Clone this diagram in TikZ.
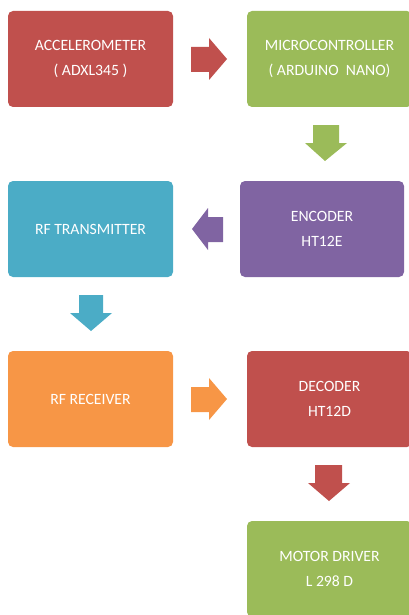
\documentclass[tikz,border=0pt]{standalone}
\usepackage{fontspec}
\setmainfont{Carlito}
\definecolor{cred}{HTML}{C0504D}
\definecolor{cgreen}{HTML}{9BBB59}
\definecolor{cblue}{HTML}{4BACC6}
\definecolor{cpurple}{HTML}{8064A2}
\definecolor{corange}{HTML}{F79646}
\tikzset{
  blockbox/.style={rectangle, rounded corners=5pt, inner sep=0pt, outer sep=0pt,
    minimum width=165pt, minimum height=96pt, text=white, align=center,
    font=\fontsize{15.7}{25}\selectfont},
  blockarrow/.style={draw=none}
}
\begin{document}
\begin{tikzpicture}[x=1pt,y=-1pt]
\useasboundingbox (0,0) rectangle (408,615);
\node[blockbox, fill=cred] (acc) at (90.5,59) {ACCELEROMETER\\( ADXL345 )};
\node[blockbox, fill=cgreen] (mcu) at (329.5,59) {MICROCONTROLLER\\( ARDUINO\ \ NANO)};
\node[blockbox, fill=cblue] (tx) at (90.5,229) {RF TRANSMITTER};
\node[blockbox, fill=cpurple, minimum width=164pt] (enc) at (322,229) {ENCODER\\HT12E};
\node[blockbox, fill=corange] (rx) at (90.5,399) {RF RECEIVER};
\node[blockbox, fill=cred] (dec) at (329.5,399) {DECODER\\HT12D};
\node[blockbox, fill=cgreen] (mot) at (329.5,569) {MOTOR DRIVER\\L 298 D};
% block arrows
\fill[cred] (191,47) -- (209,47) -- (209,38) -- (227,59) -- (209,80) -- (209,72) -- (191,72) -- cycle;
\fill[cgreen] (313,125) -- (339,125) -- (339,143) -- (347,143) -- (325,161) -- (305,143) -- (313,143) -- cycle;
\fill[cpurple] (223,217) -- (208,217) -- (208,208) -- (192,229) -- (208,250) -- (208,242) -- (223,242) -- cycle;
\fill[cblue] (79,295) -- (103,295) -- (103,313) -- (112,313) -- (91,331) -- (70,313) -- (79,313) -- cycle;
\fill[corange] (191,387) -- (209,387) -- (209,378) -- (227,399) -- (209,420) -- (209,412) -- (191,412) -- cycle;
\fill[cred] (315,465) -- (342,465) -- (342,483) -- (350,483) -- (329,501) -- (308,483) -- (315,483) -- cycle;
\end{tikzpicture}
\end{document}
